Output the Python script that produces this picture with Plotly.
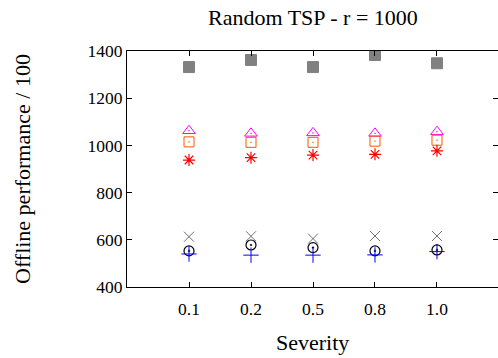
import plotly.graph_objects as go

severity = ["0.1", "0.2", "0.5", "0.8", "1.0"]
xpos = [1, 2, 3, 4, 5]

s_gray_square = [1332, 1362, 1332, 1383, 1348]
s_magenta_tri = [1062, 1051, 1053, 1051, 1058]
s_orange_square = [1015, 1013, 1013, 1018, 1022]
s_red_star = [938, 948, 959, 962, 977]
s_gray_x = [613, 615, 605, 616, 616]
s_black_circle = [553, 578, 567, 553, 557]
s_blue_plus = [540, 535, 535, 536, 550]

series = [
    ("A", s_gray_square, "square", "#808080", 11, 1),
    ("B", s_magenta_tri, "triangle-up-open-dot", "#ff00ff", 11, 1),
    ("C", s_orange_square, "square-open-dot", "#ff5500", 10, 1),
    ("D", s_red_star, "asterisk-open", "#ff0000", 10, 1.2),
    ("E", s_gray_x, "x-thin-open", "#707070", 10, 1),
    ("F", s_black_circle, "circle-open-dot", "#000000", 10, 1.2),
    ("G", s_blue_plus, "cross-thin-open", "#0000ff", 11, 1),
]

fig = go.Figure()
for name, ys, sym, col, size, lw in series:
    fig.add_trace(go.Scatter(
        x=xpos, y=ys, mode="markers", name=name,
        marker=dict(symbol=sym, color=col, size=size, line=dict(color=col, width=lw)),
    ))

font = "Liberation Serif, Times New Roman, serif"
fig.update_layout(
    width=498, height=358,
    margin=dict(l=127, r=0, t=51, b=71, autoexpand=False),
    paper_bgcolor="white", plot_bgcolor="white",
    showlegend=False,
    font=dict(family=font, size=17.5, color="black"),
    annotations=[
        dict(text="Random TSP - r = 1000", xref="paper", yref="paper", x=0.501, y=1.141,
             xanchor="center", yanchor="middle", showarrow=False, font=dict(size=22)),
        dict(text="Severity", xref="paper", yref="paper", x=0.501, y=-0.237,
             xanchor="center", yanchor="middle", showarrow=False, font=dict(size=22)),
        dict(text="Offline performance / 100", xref="paper", yref="paper", x=-0.283, y=0.5,
             xanchor="center", yanchor="middle", showarrow=False, textangle=-90, font=dict(size=22)),
    ],
)
fig.update_xaxes(
    range=[0, 5.984], tickvals=xpos, ticktext=severity, automargin=False,
    showgrid=False, zeroline=False, showline=True, linecolor="black", linewidth=1,
    mirror="ticks", ticks="inside", ticklen=5, tickcolor="black", ticklabelstandoff=6,
)
fig.update_yaxes(
    range=[400, 1400], tickvals=[400, 600, 800, 1000, 1200, 1400], automargin=False,
    showgrid=False, zeroline=False, showline=True, linecolor="black", linewidth=1,
    mirror="ticks", ticks="inside", ticklen=5, tickcolor="black",
)

fig.write_html("out.html", config={"displayModeBar": False},
               post_script="document.body.style.margin='0';")
